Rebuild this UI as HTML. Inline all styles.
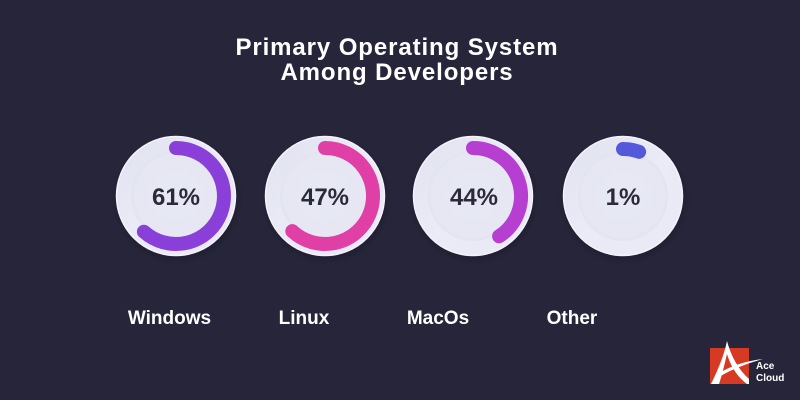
<!DOCTYPE html>
<html>
<head>
<meta charset="utf-8">
<style>
  html,body{margin:0;padding:0;background:#26253a;}
  svg{display:block;}
  text{font-family:"Liberation Sans", Arial, sans-serif;font-weight:bold;}
</style>
</head>
<body>
<svg width="800" height="400" viewBox="0 0 800 400" xmlns="http://www.w3.org/2000/svg">
  <defs>
    <radialGradient id="plate" cx="0.5" cy="0.5" r="0.5">
      <stop offset="0" stop-color="#e7e8f4"/>
      <stop offset="0.9" stop-color="#e6e7f3"/>
      <stop offset="1" stop-color="#e1e3f0"/>
    </radialGradient>
    <linearGradient id="rim" x1="0" y1="0" x2="1" y2="1">
      <stop offset="0" stop-color="#e0e2ef"/>
      <stop offset="0.5" stop-color="#eaebf6"/>
      <stop offset="1" stop-color="#e8e9f5"/>
    </linearGradient>
    <radialGradient id="shadow" cx="0.5" cy="0.5" r="0.5">
      <stop offset="0.8" stop-color="#15141f" stop-opacity="0.5"/>
      <stop offset="1" stop-color="#15141f" stop-opacity="0"/>
    </radialGradient>
  </defs>
  <rect width="800" height="400" fill="#26253a"/>

  <text x="397" y="55" fill="#ffffff" font-size="24" text-anchor="middle" letter-spacing="0.9">Primary Operating System</text>
  <text x="397" y="80" fill="#ffffff" font-size="24" text-anchor="middle" letter-spacing="0.9">Among Developers</text>

  <!-- shadows -->
  <circle cx="177" cy="199" r="66" fill="url(#shadow)"/>
  <circle cx="326" cy="199" r="66" fill="url(#shadow)"/>
  <circle cx="474" cy="199" r="66" fill="url(#shadow)"/>
  <circle cx="624" cy="199" r="66" fill="url(#shadow)"/>

  <!-- plates -->
  <g>
    <circle cx="176" cy="196" r="59.5" fill="url(#rim)" stroke="#f6f0fd" stroke-width="1.5"/>
    <circle cx="176" cy="196" r="45" fill="url(#plate)"/>
    <circle cx="325" cy="196" r="59.5" fill="url(#rim)" stroke="#f6f0fd" stroke-width="1.5"/>
    <circle cx="325" cy="196" r="45" fill="url(#plate)"/>
    <circle cx="473" cy="196" r="59.5" fill="url(#rim)" stroke="#f6f0fd" stroke-width="1.5"/>
    <circle cx="473" cy="196" r="45" fill="url(#plate)"/>
    <circle cx="623" cy="196" r="59.5" fill="url(#rim)" stroke="#f6f0fd" stroke-width="1.5"/>
    <circle cx="623" cy="196" r="45" fill="url(#plate)"/>
  </g>

  <!-- arcs -->
  <path d="M176,148 A48,48 0 1 1 143.9,231.7" fill="none" stroke="#8b3fd9" stroke-width="14" stroke-linecap="round"/>
  <path d="M325,148 A48,48 0 1 1 292.3,231.1" fill="none" stroke="#e040a6" stroke-width="14" stroke-linecap="round"/>
  <path d="M473,148 A48,48 0 0 1 499.1,236.3" fill="none" stroke="#b63fd2" stroke-width="14" stroke-linecap="round"/>
  <path d="M623,149 A47,47 0 0 1 639.1,151.8" fill="none" stroke="#5458da" stroke-width="14" stroke-linecap="round"/>

  <!-- percentages -->
  <text x="176" y="205" fill="#2a2a3a" font-size="24" text-anchor="middle">61%</text>
  <text x="325" y="205" fill="#2a2a3a" font-size="24" text-anchor="middle">47%</text>
  <text x="474" y="205" fill="#2a2a3a" font-size="24" text-anchor="middle">44%</text>
  <text x="623" y="205" fill="#2a2a3a" font-size="24" text-anchor="middle">1%</text>

  <!-- labels -->
  <text x="169.5" y="324" fill="#ffffff" font-size="19" text-anchor="middle">Windows</text>
  <text x="304" y="324" fill="#ffffff" font-size="19" text-anchor="middle">Linux</text>
  <text x="438" y="324" fill="#ffffff" font-size="19" text-anchor="middle">MacOs</text>
  <text x="572" y="324" fill="#ffffff" font-size="19" text-anchor="middle">Other</text>

  <!-- logo -->
  <rect x="710" y="348" width="39" height="36" fill="#d63a22"/>
  <path d="M727,341 C724,356 717,372 711,384 L719,384 C723,372 725,362 727,354 C730,364 736,376 747,384 L749,384 L749,379 C738,369 731,356 727,341 Z" fill="#ffffff"/>
  <path d="M716,375 C730,366 745,361 763,359 C746,364 732,369 719,377 Z" fill="#ffffff"/>
  <text x="756" y="369" fill="#ffffff" font-size="10">Ace</text>
  <text x="756" y="381" fill="#ffffff" font-size="10">Cloud</text>
</svg>
</body>
</html>
